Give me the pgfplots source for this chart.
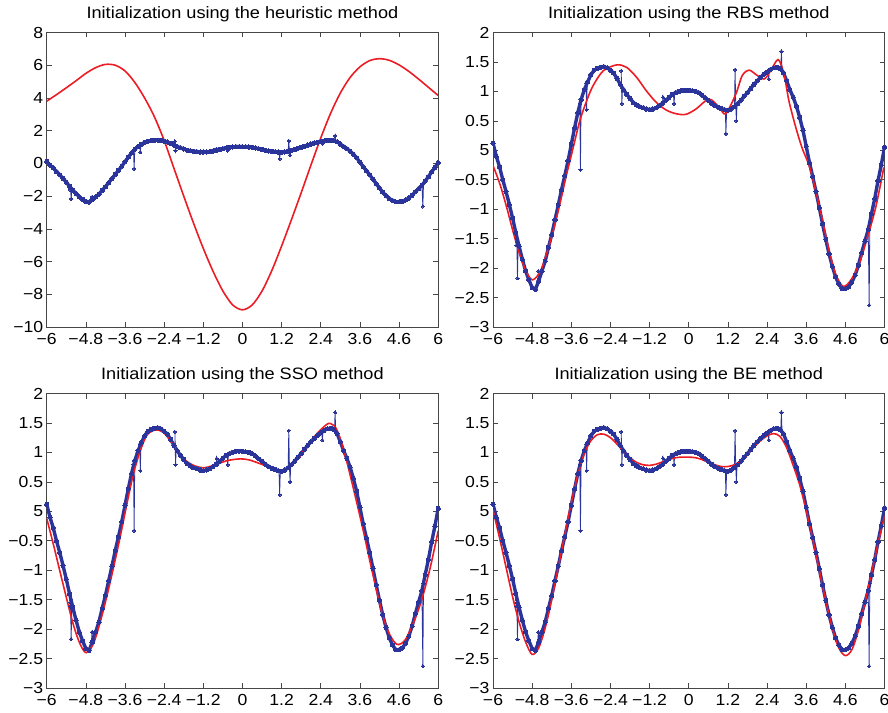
\documentclass[border=0pt]{standalone}
\usepackage{fontspec}
\setmainfont[FakeStretch=1.1]{Liberation Sans}
\usepackage{pgfplots}
\usepackage{pgfplotstable}
\pgfplotsset{compat=1.18}

\definecolor{dblue}{RGB}{42,52,155}
\definecolor{fred}{RGB}{236,28,36}
\definecolor{axgray}{RGB}{70,70,70}

\pgfplotstableread{
x y
-6.0 0.12
-5.9 -0.10
-5.8 -0.28
-5.7 -0.50
-5.6 -0.70
-5.5 -0.92
-5.4 -1.15
-5.3 -1.40
-5.2 -1.63
-5.1 -1.85
-5.0 -2.05
-4.9 -2.20
-4.8 -2.33
-4.7 -2.36
-4.6 -2.22
-4.5 -2.05
-4.4 -1.88
-4.3 -1.65
-4.2 -1.43
-4.1 -1.18
-4.0 -0.93
-3.9 -0.67
-3.8 -0.43
-3.7 -0.18
-3.6 0.10
-3.5 0.38
-3.4 0.64
-3.3 0.86
-3.2 1.03
-3.1 1.16
-3.0 1.28
-2.9 1.36
-2.8 1.39
-2.7 1.41
-2.6 1.42
-2.5 1.40
-2.4 1.36
-2.3 1.31
-2.2 1.22
-2.1 1.12
-2.0 1.03
-1.9 0.95
-1.8 0.88
-1.7 0.81
-1.6 0.77
-1.5 0.74
-1.4 0.72
-1.3 0.70
-1.2 0.69
-1.1 0.70
-1.0 0.72
-0.9 0.76
-0.8 0.80
-0.7 0.85
-0.6 0.90
-0.5 0.95
-0.4 0.98
-0.3 1.00
-0.2 1.02
-0.1 1.02
0.0 1.02
0.1 1.01
0.2 1.00
0.3 0.98
0.4 0.94
0.5 0.89
0.6 0.85
0.7 0.80
0.8 0.76
0.9 0.73
1.0 0.71
1.1 0.69
1.2 0.68
1.3 0.70
1.4 0.74
1.5 0.79
1.6 0.85
1.7 0.92
1.8 0.98
1.9 1.05
2.0 1.12
2.1 1.18
2.2 1.24
2.3 1.29
2.4 1.33
2.5 1.37
2.6 1.40
2.7 1.41
2.8 1.39
2.9 1.32
3.0 1.18
3.1 1.03
3.2 0.90
3.3 0.75
3.4 0.56
3.5 0.34
3.6 0.07
3.7 -0.21
3.8 -0.45
3.9 -0.70
4.0 -0.97
4.1 -1.25
4.2 -1.51
4.3 -1.76
4.4 -1.97
4.5 -2.15
4.6 -2.27
4.7 -2.35
4.8 -2.35
4.9 -2.32
5.0 -2.24
5.1 -2.12
5.2 -1.95
5.3 -1.74
5.4 -1.54
5.5 -1.35
5.6 -1.08
5.7 -0.82
5.8 -0.52
5.9 -0.25
6.0 0.05
}\bluedata

\pgfplotstableread{
x y
-5.30 -1.40
-5.28 -1.61
-5.26 -1.50
nan nan
-5.27 -1.55
-5.25 -2.17
-5.23 -1.60
nan nan
-4.63 -2.22
-4.61 -2.05
-4.59 -2.18
nan nan
-3.34 0.79
-3.32 -0.33
-3.30 0.86
nan nan
-3.15 1.14
-3.13 0.69
-3.11 1.17
nan nan
-2.07 1.35
-2.05 0.79
-2.03 1.05
nan nan
-0.81 0.79
-0.79 0.90
-0.77 0.81
nan nan
-0.47 0.95
-0.45 0.79
-0.43 0.97
nan nan
1.12 0.69
1.14 0.28
1.16 0.68
nan nan
1.40 0.73
1.42 1.37
1.44 0.76
1.46 0.50
1.48 0.78
nan nan
2.43 1.34
2.45 1.21
2.47 1.36
nan nan
2.82 1.38
2.84 1.68
2.86 1.34
nan nan
5.50 -1.35
5.53 -2.63
5.55 -1.22
}\spikes

\pgfplotstableread{
x y
-6.0 3.80
-5.7 4.20
-5.4 4.62
-5.1 5.05
-4.8 5.50
-4.5 5.85
-4.2 6.05
-3.9 6.00
-3.6 5.65
-3.3 4.95
-3.0 4.00
-2.7 2.85
-2.4 1.40
-2.1 -0.30
-1.8 -2.00
-1.5 -3.65
-1.2 -5.20
-0.9 -6.60
-0.6 -7.80
-0.3 -8.65
0.0 -8.95
0.3 -8.65
0.6 -7.80
0.9 -6.55
1.2 -5.05
1.5 -3.45
1.8 -1.80
2.1 -0.10
2.4 1.55
2.7 3.05
3.0 4.30
3.3 5.25
3.6 5.90
3.9 6.28
4.2 6.40
4.5 6.30
4.8 6.02
5.1 5.62
5.4 5.15
5.7 4.65
6.0 4.15
}\redheur

\pgfplotstableread{
x y
-6.00 -0.26
-5.79 -0.57
-5.58 -0.97
-5.38 -1.39
-5.17 -1.79
-4.97 -2.07
-4.79 -2.20
-4.56 -2.07
-4.36 -1.76
-4.15 -1.36
-3.95 -0.91
-3.74 -0.40
-3.54 0.05
-3.34 0.50
-3.13 0.84
-2.93 1.10
-2.62 1.35
-2.21 1.45
-1.91 1.41
-1.60 1.24
-1.30 1.01
-0.99 0.81
-0.68 0.68
-0.38 0.62
-0.09 0.61
0.22 0.70
0.62 0.87
0.93 0.73
1.13 0.62
1.44 0.95
1.64 1.27
1.85 1.36
2.05 1.29
2.31 1.21
2.51 1.35
2.74 1.54
2.92 1.29
3.07 0.84
3.28 0.39
3.48 0.03
3.69 -0.26
3.89 -0.68
4.10 -1.19
4.30 -1.70
4.50 -2.10
4.73 -2.31
4.96 -2.21
5.22 -1.93
5.48 -1.47
5.73 -0.97
5.98 -0.29
}\redrbs

\pgfplotstableread{
x y
-6.00 -0.12
-5.80 -0.55
-5.59 -1.03
-5.39 -1.48
-5.18 -1.93
-4.98 -2.25
-4.79 -2.40
-4.57 -2.25
-4.36 -1.88
-4.16 -1.45
-3.95 -0.95
-3.75 -0.44
-3.54 0.13
-3.34 0.64
-3.13 1.03
-2.93 1.29
-2.68 1.38
-2.42 1.34
-2.11 1.12
-1.80 0.89
-1.50 0.78
-1.19 0.74
-0.88 0.78
-0.47 0.86
-0.06 0.89
0.22 0.87
0.63 0.79
1.04 0.70
1.35 0.71
1.65 0.86
1.96 1.09
2.27 1.31
2.57 1.47
2.70 1.49
2.88 1.40
3.08 1.09
3.29 0.64
3.49 0.18
3.70 -0.32
3.90 -0.83
4.11 -1.34
4.31 -1.79
4.52 -2.10
4.74 -2.26
4.98 -2.19
5.23 -1.91
5.49 -1.51
5.75 -0.97
6.00 -0.33
}\redsso

\pgfplotstableread{
x y
-6.0 0.02
-5.8 -0.45
-5.6 -0.95
-5.4 -1.45
-5.2 -1.88
-5.0 -2.22
-4.8 -2.43
-4.6 -2.32
-4.4 -1.98
-4.2 -1.50
-4.0 -0.95
-3.8 -0.40
-3.6 0.15
-3.4 0.62
-3.2 0.98
-3.0 1.20
-2.8 1.30
-2.6 1.31
-2.4 1.25
-2.2 1.14
-2.0 1.02
-1.8 0.91
-1.6 0.83
-1.4 0.79
-1.2 0.78
-1.0 0.80
-0.8 0.84
-0.6 0.88
-0.4 0.91
-0.2 0.92
0.0 0.92
0.2 0.91
0.4 0.88
0.6 0.83
0.8 0.79
1.0 0.76
1.2 0.76
1.4 0.79
1.6 0.86
1.8 0.97
2.0 1.09
2.2 1.20
2.4 1.28
2.6 1.32
2.8 1.27
3.0 1.08
3.2 0.78
3.4 0.45
3.6 0.02
3.8 -0.47
4.0 -1.00
4.2 -1.52
4.4 -1.98
4.6 -2.32
4.8 -2.45
5.0 -2.35
5.2 -2.02
5.4 -1.55
5.6 -1.05
5.8 -0.55
6.0 -0.08
}\redbe

\pgfplotsset{
  panel/.style={
    scale only axis, width=391.5pt, height=294.5pt,
    anchor=south west,
    xmin=-6, xmax=6,
    xtick={-6,-4.8,-3.6,-2.4,-1.2,0,1.2,2.4,3.6,4.8,6},
    xticklabels={−6,−4.8,−3.6,−2.4,−1.2,0,1.2,2.4,3.6,4.6,6},
    tick align=inside, tick pos=both,
    major tick length=5pt,
    axis line style={axgray, line width=0.8pt},
    every tick/.style={axgray, line width=0.6pt},
    ticklabel style={font=\fontsize{16}{19}\selectfont, text=black},
    xticklabel style={yshift=-3pt},
    title style={font=\fontsize{16.5}{19}\selectfont, at={(0.5,1)}, anchor=south, yshift=4pt, inner sep=0pt},
  },
  smallpanel/.style={
    panel, ymin=-3, ymax=2,
    ytick={-3,-2.5,-2,-1.5,-1,-0.5,0,0.5,1,1.5,2},
    yticklabels={−3,−2.5,−2,−1.5,−1,−0.5,5,0.5,1,1.5,2},
  },
  bluecurve/.style={dblue, line width=3.4pt, line join=round, mark=*, mark size=2.1pt, mark options={solid, line width=0pt, fill=dblue}},
  bluespike/.style={dblue, line width=0.8pt, mark=*, mark size=1.6pt, mark options={solid, line width=0pt, fill=dblue}, unbounded coords=jump},
  redcurve/.style={fred, line width=1.6pt, smooth, tension=0.5},
}

\begin{document}
\begin{tikzpicture}
\useasboundingbox (0,0) rectangle (888pt,712pt);

\begin{axis}[panel, at={(46.7pt,385pt)}, ymin=-10, ymax=8,
  ytick={-10,-8,-6,-4,-2,0,2,4,6,8},
  yticklabels={−10,−8,−6,−4,−2,0,2,4,6,8},
  title={Initialization using the heuristic method}]
\addplot[bluecurve] table {\bluedata};
\addplot[bluespike] table {\spikes};
\addplot[redcurve] table {\redheur};
\end{axis}

\begin{axis}[smallpanel, at={(493pt,385pt)},
  title={Initialization using the RBS method}]
\addplot[bluecurve] table {\bluedata};
\addplot[bluespike] table {\spikes};
\addplot[redcurve] table {\redrbs};
\end{axis}

\begin{axis}[smallpanel, at={(46.7pt,24pt)},
  title={Initialization using the SSO method}]
\addplot[bluecurve] table {\bluedata};
\addplot[bluespike] table {\spikes};
\addplot[redcurve] table {\redsso};
\end{axis}

\begin{axis}[smallpanel, at={(493pt,24pt)},
  title={Initialization using the BE method}]
\addplot[bluecurve] table {\bluedata};
\addplot[bluespike] table {\spikes};
\addplot[redcurve] table {\redbe};
\end{axis}
\end{tikzpicture}
\end{document}
